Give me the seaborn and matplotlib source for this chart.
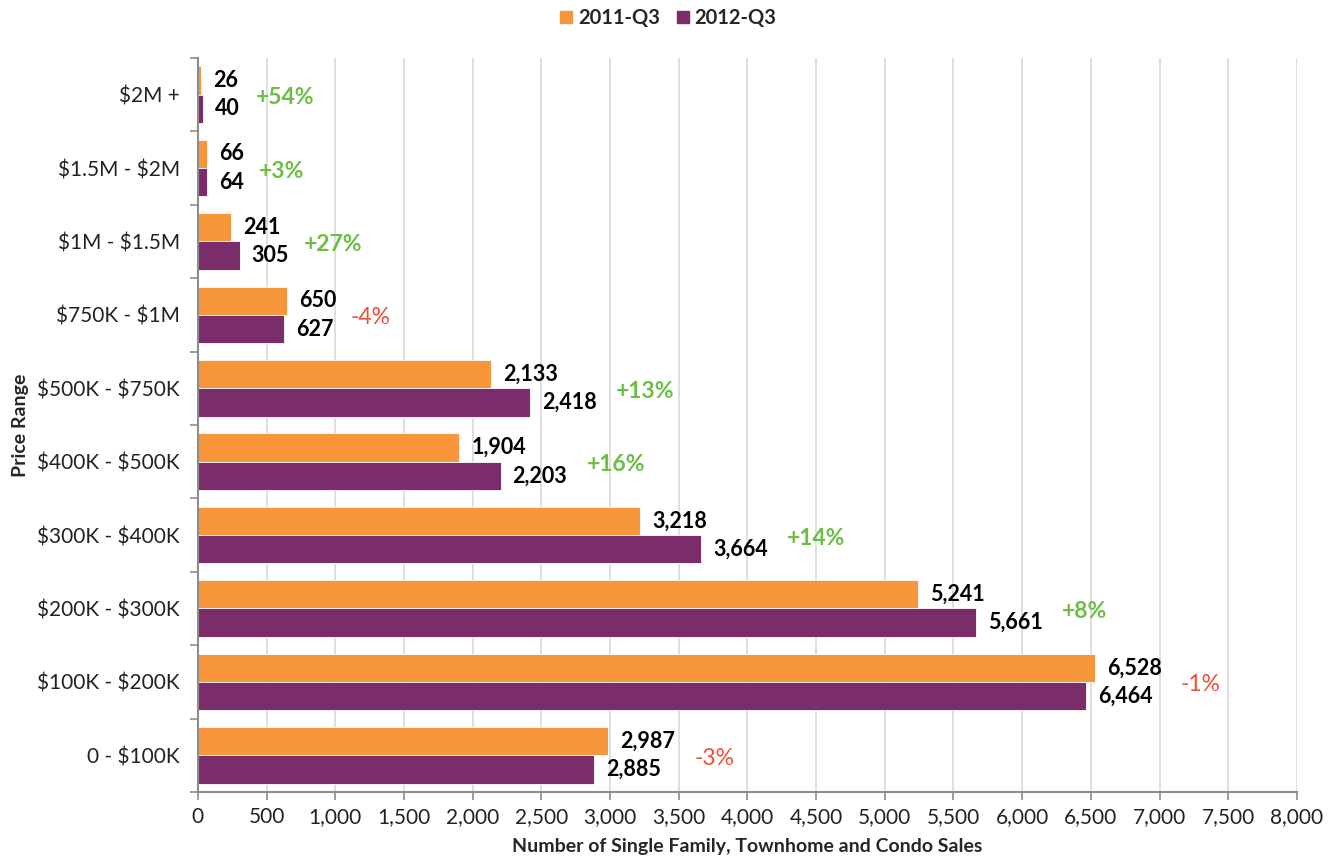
import pandas as pd
import matplotlib.pyplot as plt
import seaborn as sns
from matplotlib.ticker import FuncFormatter, MultipleLocator
from matplotlib.patches import Patch

# data
price_ranges = ['$2M +', '$1.5M - $2M', '$1M - $1.5M', '$750K - $1M', '$500K - $750K',
                '$400K - $500K', '$300K - $400K', '$200K - $300K', '$100K - $200K', '0 - $100K']
sales_2011 = [26, 66, 241, 650, 2133, 1904, 3218, 5241, 6528, 2987]
sales_2012 = [40, 64, 305, 627, 2418, 2203, 3664, 5661, 6464, 2885]
changes = ['+54%', '+3%', '+27%', '-4%', '+13%', '+16%', '+14%', '+8%', '-1%', '-3%']

orange = '#F7963A'
purple = '#7B2D6B'
green = '#6DBE45'
red = '#F04E37'

df = pd.DataFrame({
    'range': price_ranges * 2,
    'sales': sales_2011 + sales_2012,
    'period': ['2011-Q3'] * 10 + ['2012-Q3'] * 10,
})

sns.set_style('white')
plt.rcParams['font.family'] = ['Lato', 'DejaVu Sans']

fig = plt.figure(figsize=(13.37, 8.59), dpi=100)
ax = fig.add_axes([0.148, 0.078, 0.822, 0.8545])

sns.barplot(data=df, y='range', x='sales', hue='period', order=price_ranges,
            palette=[orange, purple], saturation=1, width=0.77, orient='h', ax=ax,
            edgecolor='white', linewidth=0.6, legend=False)

ax.set_xlim(0, 8000)
ax.set_ylim(9.5, -0.5)
ax.xaxis.set_major_locator(MultipleLocator(500))
ax.xaxis.set_major_formatter(FuncFormatter(lambda v, p: f'{int(v):,}'))
ax.grid(axis='x', color='#d9d9d9', linewidth=1.2)
ax.set_axisbelow(True)

for s in ['top', 'right']:
    ax.spines[s].set_visible(False)
for s in ['left', 'bottom']:
    ax.spines[s].set_color('#8c8c8c')
    ax.spines[s].set_linewidth(1.5)

ax.set_yticks(range(10))
ax.set_yticklabels([r.replace('$', r'\$') for r in price_ranges])
ax.set_yticks([i - 0.5 for i in range(11)], minor=True)
ax.tick_params(axis='y', which='major', length=0, pad=13, labelsize=15, colors='#222222')
ax.tick_params(axis='y', which='minor', length=6, width=1.2, color='#8c8c8c', left=True)
ax.tick_params(axis='x', which='major', length=6, width=1.2, color='#8c8c8c', bottom=True,
               labelsize=15, labelcolor='#222222', pad=5)

ax.set_xlabel('Number of Single Family, Townhome and Condo Sales', fontsize=14,
              fontweight='bold', labelpad=8)
ax.set_ylabel('Price Range', fontsize=14, fontweight='bold', labelpad=6)

bh = 0.77 / 2
for i in range(10):
    a, b = sales_2011[i], sales_2012[i]
    la, lb = f'{a:,}', f'{b:,}'
    ax.annotate(la, (a, i - bh / 2), xytext=(12, 0), textcoords='offset pixels',
                va='center', ha='left', fontsize=15.5, fontweight='bold', color='black')
    ax.annotate(lb, (b, i + bh / 2), xytext=(12, 0), textcoords='offset pixels',
                va='center', ha='left', fontsize=15.5, fontweight='bold', color='black')
    width_px = 11.2 * max(len(la), len(lb)) + 30
    col = green if changes[i].startswith('+') else red
    ax.annotate(changes[i], (max(a, b), i), xytext=(width_px, -3), textcoords='offset pixels',
                va='center', ha='left', fontsize=16.5,
                fontweight='bold' if col == green else 'normal', color=col)

handles = [Patch(color=orange, label='2011-Q3'), Patch(color=purple, label='2012-Q3')]
fig.legend(handles=handles, loc='center', bbox_to_anchor=(0.5, 0.979), ncol=2,
           frameon=False, handlelength=0.6, handleheight=0.6, handletextpad=0.3,
           columnspacing=0.8, prop={'weight': 'bold', 'size': 14.5})

fig.savefig('out.png', dpi=100)
